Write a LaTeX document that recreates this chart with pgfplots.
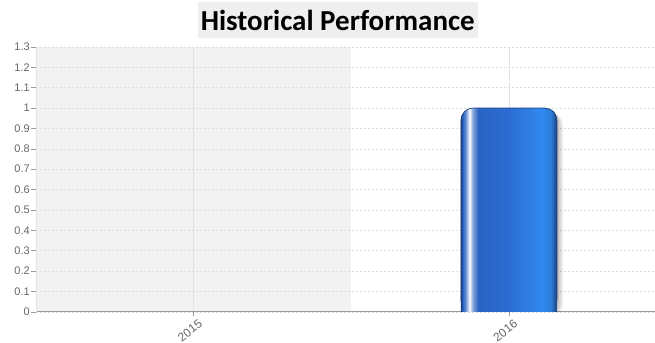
\documentclass[border=0pt]{standalone}
\usepackage{pgfplots}
\usepackage{pgfplotstable}
\pgfplotsset{compat=1.18}
\usepackage{fontspec}
\setmainfont{Liberation Sans}
\newfontfamily\titlefont{Carlito}

\definecolor{bandgray}{HTML}{F2F2F2}
\definecolor{titlegray}{HTML}{EFEFEF}
\definecolor{gridgray}{HTML}{DDDDDD}
\definecolor{vgridgray}{HTML}{E4E4E4}
\definecolor{axisgray}{HTML}{9A9A9A}
\definecolor{ticktext}{HTML}{666666}
\definecolor{barnavy}{HTML}{1B3F7A}
\definecolor{bardark}{HTML}{2A64C4}
\definecolor{barmid}{HTML}{2C6DD2}
\definecolor{barbright}{HTML}{3189F0}

% bar body: dark edge, white glint near the left, brightening to the right
\pgfdeclarehorizontalshading{barshade}{100bp}{%
  color(0bp)=(barnavy);
  color(25bp)=(barnavy);
  color(26bp)=(bardark);
  color(27.5bp)=(bardark!70!white);
  color(29.5bp)=(white);
  color(31bp)=(bardark!55!white);
  color(34bp)=(bardark);
  color(50bp)=(barmid);
  color(67bp)=(barbright);
  color(72bp)=(barbright!90!black);
  color(75bp)=(barnavy);
  color(100bp)=(barnavy)}

\pgfplotstableread{
x  y
1  1
}\perfdata

\begin{document}
\begin{tikzpicture}
\begin{axis}[
  set layers=standard,
  scale only axis,
  width=619pt, height=265pt,
  xmin=-0.5, xmax=1.462,
  ymin=0, ymax=1.3,
  axis x line*=bottom, axis y line*=left,
  x axis line style={draw=axisgray, line width=0.8pt},
  y axis line style={draw=vgridgray, line width=0.6pt},
  xtick={0,1}, xticklabels={2015,2016},
  ytick={0,0.1,0.2,0.3,0.4,0.5,0.6,0.7,0.8,0.9,1,1.1,1.2,1.3},
  tick align=outside, major tick length=4.5pt,
  tick style={draw=axisgray, line width=0.5pt},
  /pgf/number format/assume math mode=true,
  tick label style={font=\fontsize{11}{13}\selectfont, text=ticktext},
  yticklabel style={inner sep=1.5pt},
  xticklabel style={font=\fontsize{12}{14}\selectfont, anchor=east, inner sep=0pt,
                    xshift=7pt, yshift=-6pt, rotate=38},
  xmajorgrids, ymajorgrids,
  x grid style={draw=vgridgray, line width=0.5pt},
  y grid style={draw=gridgray, line width=0.5pt, dash pattern=on 2pt off 2pt},
  clip=true,
]
\begin{pgfonlayer}{axis background}
  \fill[bandgray] (axis cs:-0.5,0) rectangle (axis cs:0.5,1.3);
\end{pgfonlayer}

% soft drop shadow on the right of the bar
\addplot[ybar, bar width=96pt, bar shift=2pt, yshift=-3pt, draw=none, fill=black, fill opacity=0.10, rounded corners=12pt]
  table[x=x, y=y] {\perfdata};
\addplot[ybar, bar width=96pt, bar shift=4pt, yshift=-4pt, draw=none, fill=black, fill opacity=0.10, rounded corners=12pt]
  table[x=x, y=y] {\perfdata};
\addplot[ybar, bar width=96pt, bar shift=6pt, yshift=-5pt, draw=none, fill=black, fill opacity=0.07, rounded corners=12pt]
  table[x=x, y=y] {\perfdata};

% the bar itself, rounded on top
\addplot[ybar, bar width=96pt, bar shift=0pt, draw=barnavy, line width=0.7pt, shading=barshade, rounded corners=12pt]
  table[x=x, y=y] {\perfdata};
% square foot of the bar
\addplot[ybar, bar width=96pt, bar shift=0pt, draw=none, shading=barshade]
  coordinates {(1,0.07)};
\end{axis}
\node[fill=titlegray, minimum width=280pt, minimum height=36pt, inner sep=0pt,
      font=\titlefont\bfseries\fontsize{29}{32}\selectfont, text=black]
  at (302pt,292pt) {Historical Performance};
\path (-36pt,-31pt) rectangle (619pt,312pt);
\end{tikzpicture}
\end{document}
